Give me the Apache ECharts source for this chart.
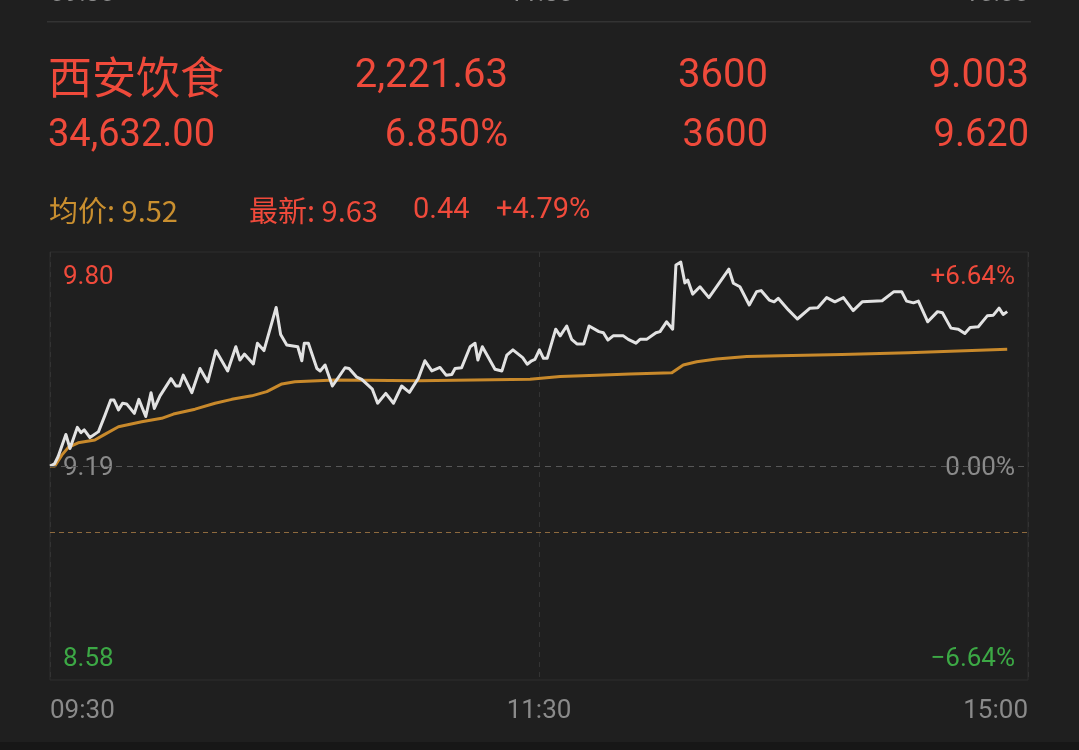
<!DOCTYPE html>
<html>
<head>
<meta charset="utf-8">
<script src="https://cdn.jsdelivr.net/npm/echarts@6/dist/echarts.min.js"></script>
<style>
  html, body { margin: 0; padding: 0; background: #1f1f1f; }
  #chart { width: 1079px; height: 750px; }
</style>
</head>
<body>
<div id="chart"></div>
<script>
// header quote fields
const stockName = '西安饮食';
const headerRow1 = ['2,221.63', '3600', '9.003'];
const headerRow2 = ['34,632.00', '6.850%', '3600', '9.620'];
const avgText = '均价: 9.52';
const lastText = ['最新: 9.63', '0.44', '+4.79%'];

// axis
const axisTimes = ['09:30', '11:30', '15:00'];
const prevClose = 9.19;
const priceHigh = 9.80;
const priceLow = 8.58;
const refPrice = 9.003;

// minute index (0 = 09:30, 120 = 11:30/13:00, 240 = 15:00) and price
const priceMinutes = [0, 1.1, 2.0, 3.9, 4.9, 6.7, 7.6, 8.4, 9.8, 11.9, 13.5, 14.9, 15.7, 16.8, 17.8, 18.8, 20.7, 21.8, 23.5, 24.8, 25.6,
  27.0, 29.7, 30.9, 31.8, 32.7, 34.8, 36.8, 38.7, 40.7, 43.6, 45.6, 46.6, 47.7, 49.9, 50.9, 52.5, 55.5, 56.6, 58.1,
  60.8, 61.8, 62.4, 63.4, 65.5, 66.3, 67.5, 69.3, 70.8, 72.4, 73.4, 75.3, 76.5, 79.1, 80.4, 82.4, 84.3, 86.3, 88.2,
  90.4, 92.0, 93.7, 95.7, 97.2, 98.6, 99.4, 101.0, 103.1, 104.3, 105.0, 106.1, 109.2, 110.9, 112.1, 113.6, 116.0,
  117.1, 118.2, 119.0, 120.1, 121.1, 122.0, 124.1, 125.2, 126.8, 128.0, 129.3, 131.0, 132.3, 134.7, 135.8, 136.9,
  138.2, 140.7, 141.9, 143.8, 144.8, 146.4, 148.7, 149.7, 151.3, 152.8, 153.6, 154.8, 155.8, 156.5, 157.7, 159.5,
  161.7, 163.6, 166.6, 167.7, 169.3, 171.6, 173.4, 174.5, 176.5, 177.7, 178.7, 181.2, 183.4, 186.5, 188.4, 190.6,
  192.6, 194.7, 197.1, 199.3, 204.2, 207.1, 209.0, 210.2, 211.9, 213.1, 215.4, 217.8, 219.0, 221.1, 222.9, 224.5,
  225.8, 227.8, 230.0, 231.5, 232.9, 233.9, 234.9];
const priceValues = [9.19, 9.196, 9.217, 9.280, 9.240, 9.300, 9.285, 9.293, 9.271, 9.288, 9.335, 9.378, 9.378, 9.350, 9.369, 9.367, 9.340, 9.380, 9.331, 9.399, 9.354,
  9.390, 9.439, 9.418, 9.418, 9.449, 9.399, 9.468, 9.430, 9.519, 9.461, 9.530, 9.492, 9.509, 9.481, 9.540, 9.519, 9.642, 9.565, 9.535,
  9.530, 9.490, 9.540, 9.540, 9.468, 9.461, 9.478, 9.418, 9.443, 9.470, 9.468, 9.443, 9.437, 9.409, 9.369, 9.397, 9.369, 9.418, 9.400,
  9.440, 9.490, 9.461, 9.471, 9.449, 9.451, 9.468, 9.470, 9.530, 9.540, 9.492, 9.530, 9.466, 9.461, 9.506, 9.521, 9.499,
  9.480, 9.490, 9.494, 9.521, 9.497, 9.497, 9.580, 9.561, 9.589, 9.551, 9.538, 9.538, 9.589, 9.573, 9.570, 9.549,
  9.561, 9.561, 9.551, 9.540, 9.551, 9.551, 9.570, 9.573, 9.601, 9.580, 9.763, 9.771, 9.712, 9.720, 9.680, 9.701,
  9.670, 9.701, 9.751, 9.711, 9.701, 9.649, 9.687, 9.690, 9.663, 9.658, 9.668, 9.635, 9.609, 9.640, 9.641, 9.670,
  9.658, 9.670, 9.633, 9.658, 9.661, 9.687, 9.687, 9.660, 9.655, 9.660, 9.601, 9.630, 9.627, 9.583, 9.580, 9.568,
  9.585, 9.587, 9.618, 9.620, 9.640, 9.622, 9.630];

// average price line
const avgMinutes = [0, 1.2, 2.9, 4.5, 6.9, 11.0, 13.1, 16.8, 22.5, 27.4, 30.3, 35.6, 40.5, 44.6, 49.5, 53.2, 56.9, 60.1,
  69.9, 90.3, 117.8, 125.2, 134.2, 142.3, 152.6, 155.4, 158.7, 163.6, 171.0, 179.1, 194.3, 210.6, 234.9];
const avgValues = [9.19, 9.19, 9.221, 9.243, 9.256, 9.264, 9.278, 9.302, 9.316, 9.326, 9.338, 9.352, 9.369, 9.380, 9.390, 9.402, 9.424, 9.430,
  9.435, 9.433, 9.437, 9.445, 9.449, 9.452, 9.456, 9.478, 9.487, 9.495, 9.502, 9.504, 9.508, 9.513, 9.523];

const RED = '#ef4a3b';
const GREEN = '#3ca845';
const GOLD = '#c98f2f';
const GRAY = '#8a8a8a';
const NUM_FONT = 'Roboto, "Noto Sans CJK SC", sans-serif';
const CJK_FONT = '"Noto Sans CJK SC", Roboto, sans-serif';

const chart = echarts.init(document.getElementById('chart'), null, { renderer: 'canvas' });

const zip = (xs, ys) => xs.map((x, i) => [x, ys[i]]);

const option = {
  backgroundColor: '#1f1f1f',
  animation: false,
  grid: {
    left: 50, top: 252, right: 51, bottom: 70,
    show: true,
    borderColor: '#2e2e2e',
    borderWidth: 1
  },
  xAxis: {
    type: 'value',
    min: 0,
    max: 240,
    interval: 120,
    axisLine: { show: false },
    axisTick: { show: false },
    splitLine: { show: true, lineStyle: { color: '#333333', type: [5, 5], width: 1 } },
    axisLabel: {
      color: GRAY,
      fontSize: 26,
      fontFamily: NUM_FONT,
      margin: 18,
      alignMinLabel: 'left',
      alignMaxLabel: 'right',
      formatter: function (v) { return axisTimes[Math.round(v / 120)]; }
    }
  },
  yAxis: {
    type: 'value',
    min: priceLow,
    max: priceHigh,
    axisLine: { show: false },
    axisTick: { show: false },
    axisLabel: { show: false },
    splitLine: { show: false }
  },
  series: [
    {
      name: 'price',
      type: 'line',
      data: zip(priceMinutes, priceValues),
      showSymbol: false,
      lineStyle: { color: '#e2e2e2', width: 3, join: 'round' },
      z: 3,
      markLine: {
        silent: true,
        symbol: 'none',
        label: { show: false },
        data: [
          { yAxis: prevClose, lineStyle: { color: '#575757', type: [6, 5], width: 1.2 } },
          { yAxis: refPrice, lineStyle: { color: '#8e6a3e', type: [5, 4], width: 1 } }
        ]
      }
    },
    {
      name: 'avg',
      type: 'line',
      data: zip(avgMinutes, avgValues),
      showSymbol: false,
      lineStyle: { color: '#c8892b', width: 3, join: 'round' },
      z: 2
    }
  ]
};

chart.setOption(option);

function pct(v) {
  const p = (v - prevClose) / prevClose * 100;
  if (p > 0.0001) return '+' + p.toFixed(2) + '%';
  if (p < -0.0001) return '\u2212' + Math.abs(p).toFixed(2) + '%';
  return '0.00%';
}

function txt(text, x, y, color, size, align, family) {
  return {
    type: 'text',
    silent: true,
    style: {
      text: text, x: x, y: y, fill: color,
      font: 'normal ' + size + 'px ' + (family || NUM_FONT),
      textAlign: align || 'left',
      textVerticalAlign: 'middle'
    }
  };
}

const pHigh = chart.convertToPixel({ gridIndex: 0 }, [0, priceHigh]);
const pBase = chart.convertToPixel({ gridIndex: 0 }, [0, prevClose]);
const pLow = chart.convertToPixel({ gridIndex: 0 }, [0, priceLow]);
const pMid = chart.convertToPixel({ gridIndex: 0 }, [120, prevClose]);
const pEnd = chart.convertToPixel({ gridIndex: 0 }, [240, prevClose]);

const graphics = [
  // cut-off time labels of the panel above
  txt(axisTimes[0], 50, -6, GRAY, 26, 'left'),
  txt(axisTimes[1], pMid[0] + 2, -6, GRAY, 26, 'center'),
  txt(axisTimes[2], pEnd[0] + 1, -6, GRAY, 26, 'right'),
  { type: 'rect', silent: true, shape: { x: 47, y: 21, width: 984, height: 1.5 }, style: { fill: '#333333' } },

  // header
  txt(stockName, 48, 77, RED, 44, 'left', CJK_FONT),
  txt(headerRow1[0], 508, 77, RED, 40, 'right'),
  txt(headerRow1[1], 768, 77, RED, 40, 'right'),
  txt(headerRow1[2], 1029, 77, RED, 40, 'right'),
  txt(headerRow2[0], 48, 136, RED, 38, 'left'),
  txt(headerRow2[1], 508, 136, RED, 38, 'right'),
  txt(headerRow2[2], 768, 136, RED, 38, 'right'),
  txt(headerRow2[3], 1029, 136, RED, 38, 'right'),
  txt(avgText, 49, 211, GOLD, 29, 'left', CJK_FONT),
  txt(lastText[0], 249, 211, RED, 29, 'left', CJK_FONT),
  txt(lastText[1], 413, 211, RED, 29, 'left'),
  txt(lastText[2], 496, 211, RED, 29, 'left'),

  // price / percent labels
  txt(priceHigh.toFixed(2), 63, pHigh[1] + 25, RED, 26, 'left'),
  txt(prevClose.toFixed(2), 63, pBase[1] + 2, GRAY, 26, 'left'),
  txt(priceLow.toFixed(2), 63, pLow[1] - 21, GREEN, 26, 'left'),
  txt(pct(priceHigh), 1015, pHigh[1] + 25, RED, 26, 'right'),
  txt(pct(prevClose), 1015, pBase[1] + 2, GRAY, 26, 'right'),
  txt(pct(priceLow), 1015, pLow[1] - 21, GREEN, 26, 'right'),

  // bottom strip
  { type: 'rect', silent: true, shape: { x: 0, y: 742, width: 1079, height: 8 }, style: { fill: '#171717' } }
];

chart.setOption({ graphic: graphics });
</script>
</body>
</html>
